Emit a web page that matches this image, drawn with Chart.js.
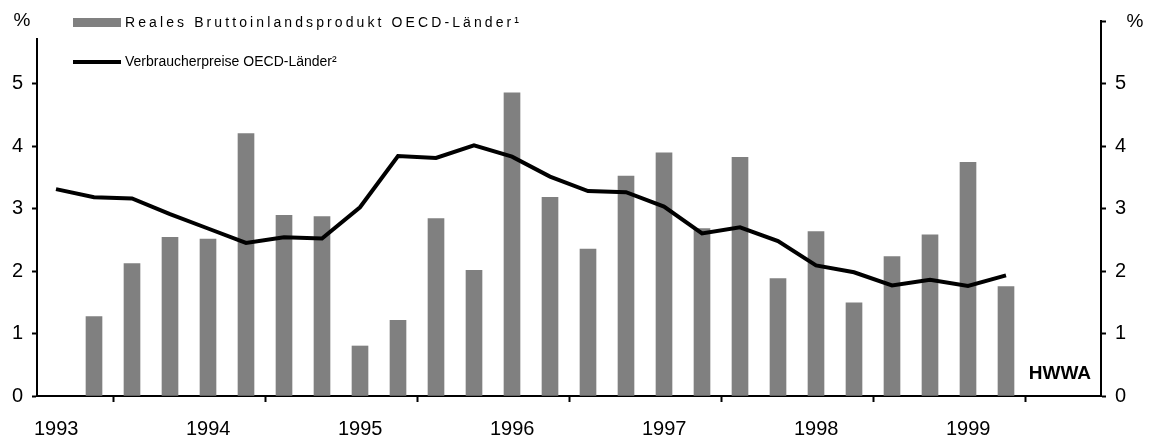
<!DOCTYPE html>
<html>
<head>
<meta charset="utf-8">
<script src="https://cdn.jsdelivr.net/npm/chart.js@4.4.0/dist/chart.umd.min.js"></script>
<style>
  html, body { margin: 0; padding: 0; background: #fff; }
</style>
</head>
<body>
<canvas id="chart" width="1152" height="436"></canvas>
<script>
// Quarterly values, % change on previous year
var quarters = ['1993Q1', '1993Q2', '1993Q3', '1993Q4',
                '1994Q1', '1994Q2', '1994Q3', '1994Q4',
                '1995Q1', '1995Q2', '1995Q3', '1995Q4',
                '1996Q1', '1996Q2', '1996Q3', '1996Q4',
                '1997Q1', '1997Q2', '1997Q3', '1997Q4',
                '1998Q1', '1998Q2', '1998Q3', '1998Q4',
                '1999Q1', '1999Q2'];
var gdp = [null, 1.27, 2.12, 2.54,
           2.51, 4.20, 2.89, 2.87,
           0.80, 1.21, 2.84, 2.01,
           4.85, 3.18, 2.35, 3.52,
           3.89, 2.68, 3.82, 1.88,
           2.63, 1.49, 2.23, 2.58,
           3.74, 1.75];
var cpi = [3.31, 3.18, 3.16, 2.91,
           2.68, 2.45, 2.54, 2.52,
           3.02, 3.84, 3.81, 4.01,
           3.83, 3.51, 3.28, 3.26,
           3.03, 2.60, 2.70, 2.48,
           2.09, 1.98, 1.77, 1.86,
           1.76, 1.93];
var gdpLabel = 'Reales Bruttoinlandsprodukt OECD-Länder¹';
var cpiLabel = 'Verbraucherpreise OECD-Länder²';
var unitLabel = '%';
var sourceLabel = 'HWWA';

var FONT = 'Arial, "Liberation Sans", sans-serif';
Chart.defaults.font.family = FONT;
Chart.defaults.color = '#000';

// quarter '1994Q2' -> middle of that quarter on a year axis
function quarterPos(q) {
  var year = parseInt(q.slice(0, 4), 10);
  var n = parseInt(q.slice(5), 10);
  return year + (n - 0.5) / 4;
}

function toPoints(values) {
  var pts = [];
  quarters.forEach(function(q, i) {
    if (values[i] !== null) pts.push({ x: quarterPos(q), y: values[i] });
  });
  return pts;
}

// legend, unit labels and source note
var extras = {
  id: 'extras',
  afterDraw: function(chart) {
    var ctx = chart.ctx;
    var ds = chart.data.datasets;
    ctx.save();

    // legend box sits over the top of the left axis
    ctx.fillStyle = '#fff';
    ctx.fillRect(30, 0, 14, 38);

    ctx.fillStyle = ds[1].backgroundColor;
    ctx.fillRect(73, 18, 48, 9);
    ctx.strokeStyle = ds[0].borderColor;
    ctx.lineWidth = 4;
    ctx.beginPath();
    ctx.moveTo(73, 62);
    ctx.lineTo(121, 62);
    ctx.stroke();

    ctx.fillStyle = '#000';
    ctx.textBaseline = 'middle';
    ctx.textAlign = 'left';
    ctx.font = '14px ' + FONT;
    ctx.letterSpacing = '3.1px';
    ctx.fillText(ds[1].label, 125, 23);
    ctx.letterSpacing = '0px';
    ctx.fillText(ds[0].label, 125, 62);

    ctx.font = '19px ' + FONT;
    ctx.textAlign = 'center';
    ctx.fillText(unitLabel, 22, 21);
    ctx.fillText(unitLabel, 1135, 22);

    ctx.font = 'bold 19px ' + FONT;
    ctx.textAlign = 'right';
    ctx.fillText(sourceLabel, 1091, 374);
    ctx.restore();
  }
};

var axisStyle = {
  min: 0,
  max: 6,
  ticks: {
    stepSize: 1,
    font: { size: 20 },
    padding: 9,
    callback: function(v) { return v === 6 ? '' : v; }
  },
  grid: { drawOnChartArea: false, tickLength: 5, tickColor: '#000', tickWidth: 2 },
  border: { color: '#000', width: 2 }
};

new Chart(document.getElementById('chart'), {
  data: {
    datasets: [
      {
        type: 'line',
        label: cpiLabel,
        data: toPoints(cpi),
        borderColor: '#000',
        backgroundColor: '#000',
        borderWidth: 4,
        pointRadius: 0,
        tension: 0,
        order: 0,
        yAxisID: 'y'
      },
      {
        type: 'bar',
        label: gdpLabel,
        data: toPoints(gdp),
        backgroundColor: '#808080',
        borderWidth: 0,
        barThickness: 16,
        order: 1,
        yAxisID: 'y'
      }
    ]
  },
  options: {
    responsive: false,
    animation: false,
    layout: { padding: { top: 18, left: 0, right: 0, bottom: 0 } },
    plugins: {
      legend: { display: false },
      tooltip: { enabled: false }
    },
    scales: {
      x: {
        type: 'linear',
        min: 1993,
        max: 2000,
        offset: false,
        ticks: {
          stepSize: 1,
          align: 'start',
          labelOffset: -3,
          padding: 15,
          font: { size: 20 },
          callback: function(v) { return v < 2000 ? String(v) : ''; }
        },
        grid: { drawOnChartArea: false, tickLength: 6, tickColor: '#000', tickWidth: 2 },
        border: { color: '#000', width: 2 },
        afterFit: function(s) { s.height = 40; }
      },
      y: Object.assign({}, axisStyle, {
        position: 'left',
        afterFit: function(s) { s.width = 37; }
      }),
      y1: Object.assign({}, axisStyle, {
        position: 'right',
        afterFit: function(s) { s.width = 51; }
      })
    }
  },
  plugins: [extras]
});
</script>
</body>
</html>
